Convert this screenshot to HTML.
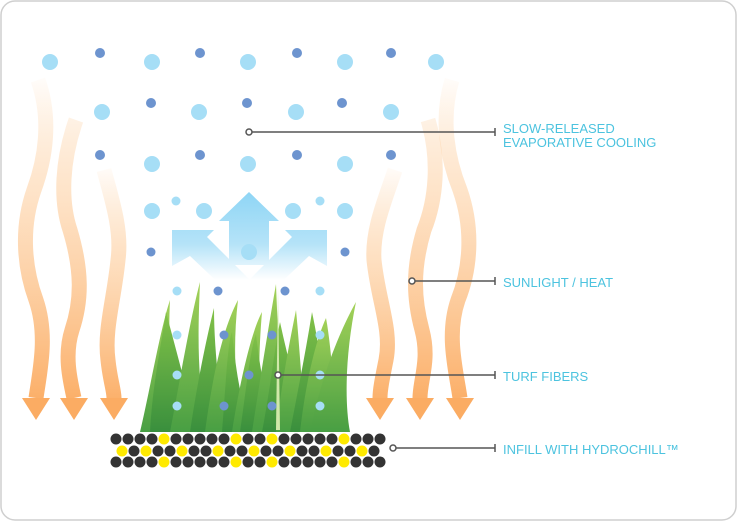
<!DOCTYPE html>
<html><head><meta charset="utf-8"><style>
html,body{margin:0;padding:0;background:#fff;}
svg{display:block;}
text{font-family:"Liberation Sans",Arial,sans-serif;font-size:13px;fill:#4cc3df;}
</style></head><body>
<svg width="738" height="522" viewBox="0 0 738 522" xmlns="http://www.w3.org/2000/svg">
<defs>
<linearGradient id="og" gradientUnits="userSpaceOnUse" x1="0" y1="70" x2="0" y2="410">
<stop offset="0" stop-color="#fdc48a" stop-opacity="0"/>
<stop offset="0.35" stop-color="#fdd2a6" stop-opacity="0.6"/>
<stop offset="1" stop-color="#fbac63"/>
</linearGradient>
<linearGradient id="og2" gradientUnits="userSpaceOnUse" x1="0" y1="160" x2="0" y2="410">
<stop offset="0" stop-color="#fdc48a" stop-opacity="0"/>
<stop offset="0.4" stop-color="#fdd2a6" stop-opacity="0.7"/>
<stop offset="1" stop-color="#fbac63"/>
</linearGradient>
<linearGradient id="bg" gradientUnits="userSpaceOnUse" x1="0" y1="190" x2="0" y2="280">
<stop offset="0" stop-color="#8dd5f5"/>
<stop offset="0.6" stop-color="#b5e3f8"/>
<stop offset="1" stop-color="#ffffff"/>
</linearGradient>
<linearGradient id="gg" x1="0" y1="0" x2="0" y2="1">
<stop offset="0" stop-color="#9fd04f"/>
<stop offset="1" stop-color="#3f9a3a"/>
</linearGradient>
<linearGradient id="gg2" x1="0" y1="0" x2="0" y2="1">
<stop offset="0" stop-color="#7cbf3f"/>
<stop offset="1" stop-color="#2f8a33"/>
</linearGradient>
</defs>
<rect x="1" y="1" width="735" height="519" rx="14" fill="#fff" stroke="#cfcfcf" stroke-width="1.5"/>

<g fill="none" stroke-width="15" stroke-linecap="butt">
<path d="M38 80 C52 120 45 160 34 190 C20 230 25 270 36 300 C48 335 40 370 36 398" stroke="url(#og)"/>
<path d="M76 120 C62 160 60 200 70 230 C82 270 82 300 72 330 C64 355 70 380 74 398" stroke="url(#og)"/>
<path d="M104 170 C112 200 122 230 118 260 C114 300 104 330 108 360 C110 380 114 390 114 398" stroke="url(#og2)"/>
<path d="M395 170 C385 200 372 230 374 260 C378 300 392 330 386 360 C382 380 380 390 380 398" stroke="url(#og2)"/>
<path d="M428 120 C440 160 436 200 424 230 C412 270 414 300 422 330 C430 360 420 380 420 398" stroke="url(#og)"/>
<path d="M452 80 C440 120 448 160 460 190 C474 230 470 270 458 300 C446 335 456 370 460 398" stroke="url(#og)"/>
</g>
<g fill="#fbac63">
<path d="M22 398 H50 L36 420 Z"/>
<path d="M60 398 H88 L74 420 Z"/>
<path d="M100 398 H128 L114 420 Z"/>
<path d="M366 398 H394 L380 420 Z"/>
<path d="M406 398 H434 L420 420 Z"/>
<path d="M446 398 H474 L460 420 Z"/>
</g>

<g fill="url(#bg)">
<path d="M249 192 L279 221 H269 V265 H229 V221 H219 Z"/>
<path d="M172 230 H214 L207 237 L250 280 L228 292 L190 256 L172 266 Z"/>
<path d="M327 230 H285 L292 237 L249 280 L271 292 L309 256 L327 266 Z"/>
</g>

<g opacity="0.95">
<path d="M140 432 C150 390 160 330 170 300 C168 340 170 390 182 432 Z" fill="url(#gg)"/>
<path d="M150 432 C152 390 160 350 166 312 C176 350 190 400 196 432 Z" fill="url(#gg2)"/>
<path d="M170 432 C180 380 190 320 200 282 C198 330 196 390 210 432 Z" fill="url(#gg)"/>
<path d="M190 432 C196 390 206 340 214 308 C214 350 220 400 226 432 Z" fill="url(#gg2)"/>
<path d="M205 432 C212 380 222 330 238 300 C232 350 236 400 244 432 Z" fill="url(#gg)"/>
<path d="M222 432 C226 380 228 340 232 332 C236 370 240 400 252 432 Z" fill="url(#gg2)"/>
<path d="M232 432 C240 380 252 330 262 312 C258 360 258 400 266 432 Z" fill="url(#gg)"/>
<path d="M240 432 C246 390 250 350 256 334 C260 370 266 400 276 432 Z" fill="url(#gg2)"/>
<path d="M252 432 C260 380 268 330 276 284 C278 340 282 400 284 432 Z" fill="url(#gg)"/>
<path d="M262 432 C270 390 276 340 280 322 C288 360 300 400 304 432 Z" fill="url(#gg2)"/>
<path d="M276 432 C282 380 290 340 296 310 C300 350 302 400 308 432 Z" fill="url(#gg)"/>
<path d="M290 432 C298 390 306 350 312 312 C318 340 326 390 330 432 Z" fill="url(#gg2)"/>
<path d="M300 432 C306 380 316 340 326 318 C332 350 334 400 338 432 Z" fill="url(#gg)"/>
<path d="M310 432 C320 380 340 330 356 302 C346 350 344 400 350 432 Z" fill="url(#gg)"/>
<path d="M276 430 L278 288 L280 430 Z" fill="#cfe7a6"/>
</g>

<g fill="#a6def6">
<circle cx="50" cy="62" r="8"/><circle cx="152" cy="62" r="8"/><circle cx="248" cy="62" r="8"/><circle cx="345" cy="62" r="8"/><circle cx="436" cy="62" r="8"/>
<circle cx="102" cy="112" r="8"/><circle cx="199" cy="112" r="8"/><circle cx="296" cy="112" r="8"/><circle cx="391" cy="112" r="8"/>
<circle cx="152" cy="164" r="8"/><circle cx="248" cy="164" r="8"/><circle cx="345" cy="164" r="8"/>
<circle cx="152" cy="211" r="8"/><circle cx="204" cy="211" r="8"/><circle cx="293" cy="211" r="8"/><circle cx="345" cy="211" r="8"/>
<circle cx="176" cy="201" r="4.5"/><circle cx="320" cy="201" r="4.5"/>
<circle cx="249" cy="252" r="8"/>
<circle cx="177" cy="291" r="4.5"/><circle cx="320" cy="291" r="4.5"/>
<circle cx="177" cy="335" r="4.5"/><circle cx="320" cy="335" r="4.5"/>
<circle cx="177" cy="375" r="4.5"/><circle cx="320" cy="375" r="4.5"/>
<circle cx="177" cy="406" r="4.5"/><circle cx="320" cy="406" r="4.5"/>
</g>
<g fill="#6d94cf">
<circle cx="100" cy="53" r="5"/><circle cx="200" cy="53" r="5"/><circle cx="297" cy="53" r="5"/><circle cx="391" cy="53" r="5"/>
<circle cx="151" cy="103" r="5"/><circle cx="247" cy="103" r="5"/><circle cx="342" cy="103" r="5"/>
<circle cx="100" cy="155" r="5"/><circle cx="200" cy="155" r="5"/><circle cx="297" cy="155" r="5"/><circle cx="391" cy="155" r="5"/>
<circle cx="151" cy="252" r="4.5"/><circle cx="345" cy="252" r="4.5"/>
<circle cx="218" cy="291" r="4.5"/><circle cx="285" cy="291" r="4.5"/>
<circle cx="224" cy="335" r="4.5"/><circle cx="272" cy="335" r="4.5"/>
<circle cx="249" cy="375" r="4.5"/>
<circle cx="224" cy="406" r="4.5"/><circle cx="272" cy="406" r="4.5"/>
</g>

<g>
<g fill="#333">
<circle cx="116" cy="439" r="5.5"/><circle cx="128" cy="439" r="5.5"/><circle cx="140" cy="439" r="5.5"/><circle cx="152" cy="439" r="5.5"/><circle cx="176" cy="439" r="5.5"/><circle cx="188" cy="439" r="5.5"/><circle cx="200" cy="439" r="5.5"/><circle cx="212" cy="439" r="5.5"/><circle cx="224" cy="439" r="5.5"/><circle cx="248" cy="439" r="5.5"/><circle cx="260" cy="439" r="5.5"/><circle cx="284" cy="439" r="5.5"/><circle cx="296" cy="439" r="5.5"/><circle cx="308" cy="439" r="5.5"/><circle cx="320" cy="439" r="5.5"/><circle cx="332" cy="439" r="5.5"/><circle cx="356" cy="439" r="5.5"/><circle cx="368" cy="439" r="5.5"/><circle cx="380" cy="439" r="5.5"/>
<circle cx="134" cy="451" r="5.5"/><circle cx="158" cy="451" r="5.5"/><circle cx="170" cy="451" r="5.5"/><circle cx="194" cy="451" r="5.5"/><circle cx="206" cy="451" r="5.5"/><circle cx="230" cy="451" r="5.5"/><circle cx="242" cy="451" r="5.5"/><circle cx="266" cy="451" r="5.5"/><circle cx="278" cy="451" r="5.5"/><circle cx="302" cy="451" r="5.5"/><circle cx="314" cy="451" r="5.5"/><circle cx="338" cy="451" r="5.5"/><circle cx="350" cy="451" r="5.5"/><circle cx="374" cy="451" r="5.5"/>
<circle cx="116" cy="462" r="5.5"/><circle cx="128" cy="462" r="5.5"/><circle cx="140" cy="462" r="5.5"/><circle cx="152" cy="462" r="5.5"/><circle cx="176" cy="462" r="5.5"/><circle cx="188" cy="462" r="5.5"/><circle cx="200" cy="462" r="5.5"/><circle cx="212" cy="462" r="5.5"/><circle cx="224" cy="462" r="5.5"/><circle cx="248" cy="462" r="5.5"/><circle cx="260" cy="462" r="5.5"/><circle cx="284" cy="462" r="5.5"/><circle cx="296" cy="462" r="5.5"/><circle cx="308" cy="462" r="5.5"/><circle cx="320" cy="462" r="5.5"/><circle cx="332" cy="462" r="5.5"/><circle cx="356" cy="462" r="5.5"/><circle cx="368" cy="462" r="5.5"/><circle cx="380" cy="462" r="5.5"/>
</g>
<g fill="#ffea00">
<circle cx="164" cy="439" r="5.5"/><circle cx="236" cy="439" r="5.5"/><circle cx="272" cy="439" r="5.5"/><circle cx="344" cy="439" r="5.5"/>
<circle cx="122" cy="451" r="5.5"/><circle cx="146" cy="451" r="5.5"/><circle cx="182" cy="451" r="5.5"/><circle cx="218" cy="451" r="5.5"/><circle cx="254" cy="451" r="5.5"/><circle cx="290" cy="451" r="5.5"/><circle cx="326" cy="451" r="5.5"/><circle cx="362" cy="451" r="5.5"/>
<circle cx="164" cy="462" r="5.5"/><circle cx="236" cy="462" r="5.5"/><circle cx="272" cy="462" r="5.5"/><circle cx="344" cy="462" r="5.5"/>
</g>
</g>

<g stroke="#555" stroke-width="1.5" fill="#fff">
<line x1="252" y1="132" x2="495" y2="132"/><line x1="495" y1="128" x2="495" y2="136"/>
<circle cx="249" cy="132" r="3"/>
<line x1="415" y1="281" x2="495" y2="281"/><line x1="495" y1="277" x2="495" y2="285"/>
<circle cx="412" cy="281" r="3"/>
<line x1="281" y1="375" x2="495" y2="375"/><line x1="495" y1="371" x2="495" y2="379"/>
<circle cx="278" cy="375" r="3"/>
<line x1="396" y1="448" x2="495" y2="448"/><line x1="495" y1="444" x2="495" y2="452"/>
<circle cx="393" cy="448" r="3"/>
</g>
<text x="503" y="133">SLOW-RELEASED</text>
<text x="503" y="147">EVAPORATIVE COOLING</text>
<text x="503" y="287">SUNLIGHT / HEAT</text>
<text x="503" y="381">TURF FIBERS</text>
<text x="503" y="454">INFILL WITH HYDROCHILL™</text>
</svg>
</body></html>
